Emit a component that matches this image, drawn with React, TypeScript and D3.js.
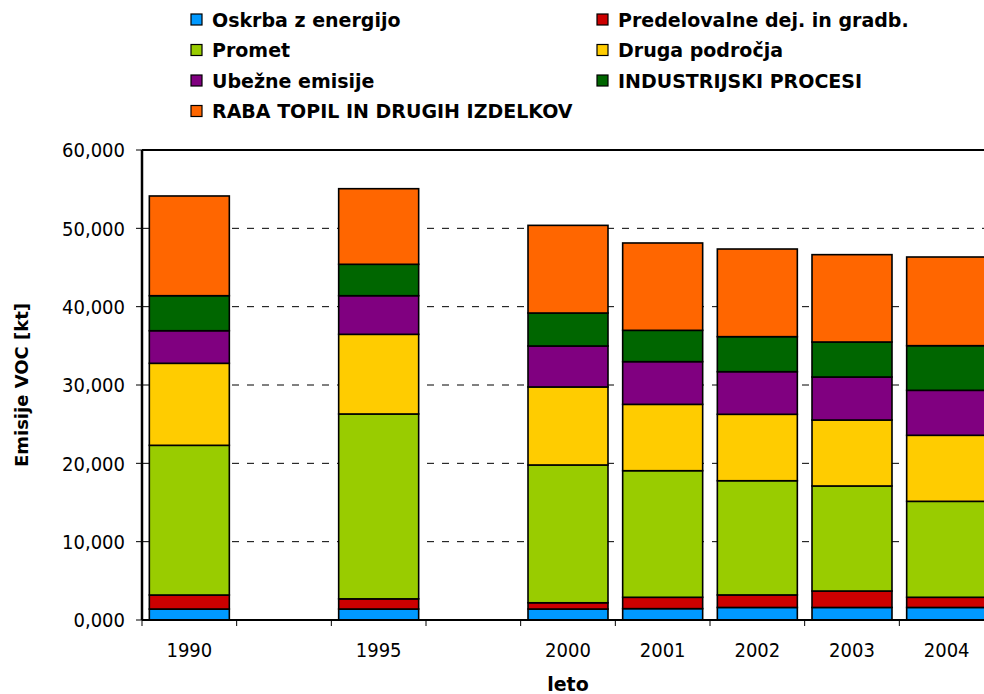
import React, { useEffect, useRef } from "react"
import * as d3 from "d3"

// kategorije na osi x (prazni stolpci med leti)
const categories = ["1990", "_a", "1995", "_b", "2000", "2001", "2002", "2003", "2004"]
const years = ["1990", "1995", "2000", "2001", "2002", "2003", "2004"]

const seriesNames = [
    "Oskrba z energijo",
    "Predelovalne dej. in gradb.",
    "Promet",
    "Druga področja",
    "Ubežne emisije",
    "INDUSTRIJSKI PROCESI",
    "RABA TOPIL IN DRUGIH IZDELKOV",
]
const seriesColors = ["#0099FF", "#CC0000", "#99CC00", "#FFCC00", "#800080", "#006600", "#FF6600"]

// emisije VOC [kt]
const oskrba = [1.40, 1.40, 1.40, 1.45, 1.60, 1.60, 1.60]
const predelovalne = [1.79, 1.30, 0.80, 1.45, 1.60, 2.10, 1.30]
const promet = [19.11, 23.60, 17.59, 16.16, 14.58, 13.41, 12.25]
const druga = [10.47, 10.17, 9.96, 8.47, 8.48, 8.42, 8.43]
const ubezne = [4.16, 4.93, 5.23, 5.45, 5.44, 5.49, 5.74]
const industrijski = [4.47, 4.01, 4.21, 4.00, 4.47, 4.47, 5.70]
const topila = [12.73, 9.65, 11.19, 11.15, 11.19, 11.15, 11.32]

const yTicks = [0, 10, 20, 30, 40, 50, 60]

const App = () => {
    const ref = useRef(null)

    useEffect(() => {
        const svg = d3.select(ref.current)
        svg.selectAll("*").remove()

        const margin = { top: 150, right: -10, bottom: 74, left: 142 }
        const width = 984
        const height = 694
        const font = "'DejaVu Sans', Verdana, sans-serif"
        const tickFont = "'DejaVu Sans Condensed', 'DejaVu Sans', sans-serif"

        const values = [oskrba, predelovalne, promet, druga, ubezne, industrijski, topila]
        const data = years.map((year, i) => {
            const row = { year }
            seriesNames.forEach((name, s) => { row[name] = values[s][i] })
            return row
        })
        const stacked = d3.stack().keys(seriesNames)(data)

        const x = d3.scaleBand()
            .domain(categories)
            .range([margin.left, width - margin.right])
            .paddingInner(0.155)
            .paddingOuter(0.0775)

        const y = d3.scaleLinear()
            .domain([0, 60])
            .range([height - margin.bottom, margin.top])

        const plotRight = width - margin.right
        const y0 = y(0)

        // mreža
        svg.append("g")
            .selectAll("line")
            .data(yTicks.filter(t => t > 0 && t < 60))
            .join("line")
            .attr("x1", margin.left)
            .attr("x2", plotRight)
            .attr("y1", d => y(d))
            .attr("y2", d => y(d))
            .attr("stroke", "#000")
            .attr("stroke-width", 1)
            .attr("stroke-dasharray", "7,8")

        // okvir zgoraj in desno
        svg.append("line")
            .attr("x1", margin.left).attr("x2", plotRight)
            .attr("y1", y(60)).attr("y2", y(60))
            .attr("stroke", "#000").attr("stroke-width", 2)
        svg.append("line")
            .attr("x1", plotRight).attr("x2", plotRight)
            .attr("y1", y(60)).attr("y2", y0)
            .attr("stroke", "#000").attr("stroke-width", 2)

        // stolpci
        svg.append("g")
            .selectAll("g")
            .data(stacked)
            .join("g")
            .attr("fill", (d, i) => seriesColors[i])
            .selectAll("rect")
            .data(d => d)
            .join("rect")
            .attr("x", d => x(d.data.year))
            .attr("width", x.bandwidth())
            .attr("y", d => y(d[1]))
            .attr("height", d => y(d[0]) - y(d[1]))
            .attr("stroke", "#000")
            .attr("stroke-width", 1.6)

        // os y
        const yAxis = svg.append("g")
        yAxis.append("line")
            .attr("x1", margin.left).attr("x2", margin.left)
            .attr("y1", y(60)).attr("y2", y0)
            .attr("stroke", "#000").attr("stroke-width", 2.5)
        yAxis.selectAll("line.tick")
            .data(yTicks)
            .join("line")
            .attr("class", "tick")
            .attr("x1", margin.left - 6).attr("x2", margin.left)
            .attr("y1", d => y(d)).attr("y2", d => y(d))
            .attr("stroke", "#000").attr("stroke-width", 1)
        yAxis.selectAll("text")
            .data(yTicks)
            .join("text")
            .attr("x", margin.left - 17)
            .attr("y", d => y(d))
            .attr("dy", "0.36em")
            .attr("text-anchor", "end")
            .attr("font-family", tickFont)
            .attr("font-size", 20)
            .attr("fill", "#000")
            .text(d => d3.format(".3f")(d).replace(".", ","))

        // os x
        const xAxis = svg.append("g")
        xAxis.append("line")
            .attr("x1", margin.left).attr("x2", plotRight)
            .attr("y1", y0).attr("y2", y0)
            .attr("stroke", "#000").attr("stroke-width", 2)
        xAxis.selectAll("line.tick")
            .data(d3.range(categories.length + 1))
            .join("line")
            .attr("class", "tick")
            .attr("x1", i => margin.left + i * x.step())
            .attr("x2", i => margin.left + i * x.step())
            .attr("y1", y0).attr("y2", y0 + 6)
            .attr("stroke", "#000").attr("stroke-width", 1)
        xAxis.selectAll("text")
            .data(years)
            .join("text")
            .attr("x", d => x(d) + x.bandwidth() / 2)
            .attr("y", y0 + 37)
            .attr("text-anchor", "middle")
            .attr("font-family", tickFont)
            .attr("font-size", 20)
            .attr("fill", "#000")
            .text(d => d)

        // naslovi osi
        svg.append("text")
            .attr("transform", `translate(28,${(y(60) + y0) / 2}) rotate(-90)`)
            .attr("text-anchor", "middle")
            .attr("font-family", font)
            .attr("font-weight", "bold")
            .attr("font-size", 18)
            .text("Emisije VOC [kt]")
        svg.append("text")
            .attr("x", 568)
            .attr("y", 691)
            .attr("text-anchor", "middle")
            .attr("font-family", font)
            .attr("font-weight", "bold")
            .attr("font-size", 19)
            .text("leto")

        // legenda
        const legend = svg.append("g")
            .selectAll("g")
            .data(seriesNames)
            .join("g")
            .attr("transform", (d, i) => `translate(${i % 2 === 0 ? 191 : 597},${19.5 + Math.floor(i / 2) * 30.5})`)
        legend.append("rect")
            .attr("x", 0).attr("y", -5.5)
            .attr("width", 11).attr("height", 11)
            .attr("fill", (d, i) => seriesColors[i])
            .attr("stroke", "#000").attr("stroke-width", 1.2)
        legend.append("text")
            .attr("x", 21)
            .attr("y", 7)
            .attr("font-family", font)
            .attr("font-weight", "bold")
            .attr("font-size", 19)
            .attr("fill", "#000")
            .text(d => d)
    }, [])

    return (
        <svg
            ref={ref}
            width={984}
            height={694}
            style={{ position: "absolute", left: 0, top: 0, background: "#fff" }}
        />
    )
}

export default App
